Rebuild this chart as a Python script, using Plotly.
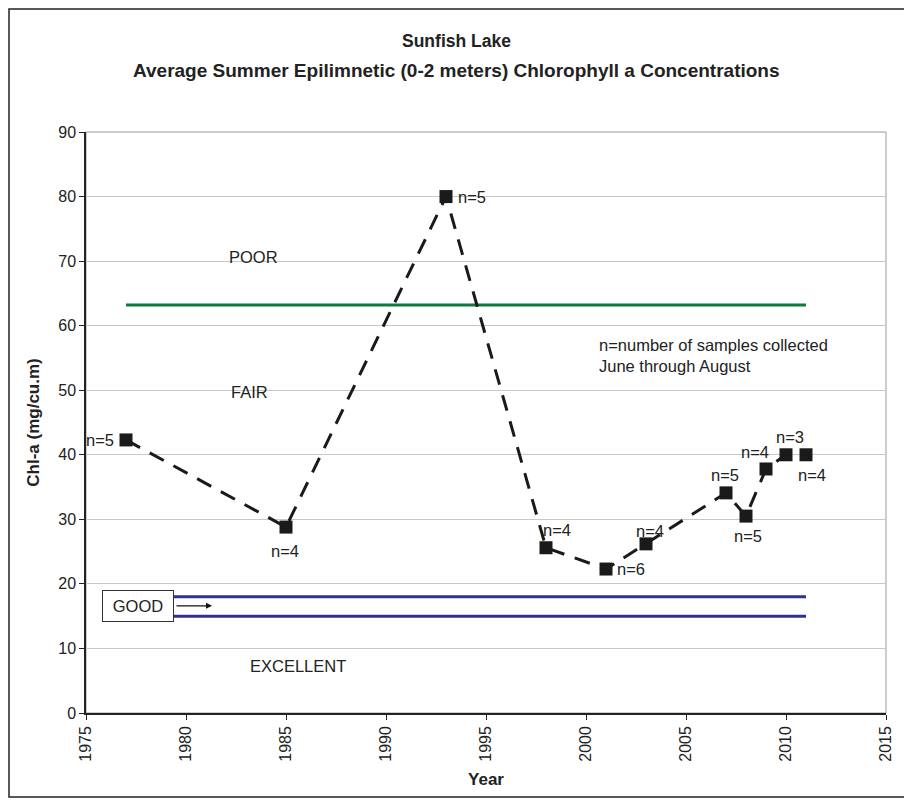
import plotly.graph_objects as go

years = [1977, 1985, 1993, 1998, 2001, 2003, 2007, 2008, 2009, 2010, 2011]
chla = [42.3, 28.8, 80.0, 25.6, 22.3, 26.2, 34.1, 30.5, 37.8, 40.0, 40.0]
n_samples = [5, 4, 5, 4, 6, 4, 5, 5, 4, 3, 4]

poor_fair = 63.2
good_upper = 18.0
good_lower = 15.0
threshold_x = [1977, 2011]

x_ticks = [1975, 1980, 1985, 1990, 1995, 2000, 2005, 2010, 2015]
y_ticks = [0, 10, 20, 30, 40, 50, 60, 70, 80, 90]

# label offsets (px) for each "n=" annotation
label_dx = [-26, -1, 26, 11, 25, 4, -1, 2, -11, 4, 6]
label_dy = [0, -24, 0, 18, 0, 13, 18, -20, 17, 18, -20]

FONT = "Liberation Sans, Arial, sans-serif"
TXT = 16.5

# page is rendered with an 8px body margin; compensate so the plot area sits where the reference has it
OFF = 8
W, H = 912 - OFF, 803 - OFF
L, R, T, B = 86 - OFF, 26, 132 - OFF, 90


def px_x(page_x):
    return (page_x - 86) / 800


def px_y(page_y):
    return (713 - page_y) / 581


fig = go.Figure()

fig.add_trace(go.Scatter(x=threshold_x, y=[poor_fair, poor_fair], mode="lines",
                         line=dict(color="#0f7a3a", width=3), hoverinfo="skip"))
fig.add_trace(go.Scatter(x=threshold_x, y=[good_upper, good_upper], mode="lines",
                         line=dict(color="#2e3192", width=3), hoverinfo="skip"))
fig.add_trace(go.Scatter(x=threshold_x, y=[good_lower, good_lower], mode="lines",
                         line=dict(color="#2e3192", width=3), hoverinfo="skip"))

fig.add_trace(go.Scatter(x=years, y=chla, mode="lines+markers",
                         line=dict(color="#1a1a1a", width=3, dash="16px,11px"),
                         marker=dict(symbol="square", size=13, color="#1a1a1a")))

for xv, yv, n, dx, dy in zip(years, chla, n_samples, label_dx, label_dy):
    fig.add_annotation(x=xv, y=yv, text=f"n={n}", showarrow=False,
                       xshift=dx, yshift=dy, font=dict(size=TXT, color="#222222", family=FONT))

zone_labels = [("POOR", 1983.35, 70.7), ("FAIR", 1983.15, 49.7), ("EXCELLENT", 1985.6, 7.3)]
for t, xv, yv in zone_labels:
    fig.add_annotation(x=xv, y=yv, text=t, showarrow=False,
                       font=dict(size=TXT, color="#222222", family=FONT))

fig.add_annotation(x=2000.55, y=55.4, xanchor="left", align="left", showarrow=False,
                   text="n=number of samples collected<br>June through August",
                   font=dict(size=TXT, color="#222222", family=FONT))

fig.add_annotation(x=1981.3, y=16.6, ax=1979.45, ay=16.6, axref="x", ayref="y",
                   showarrow=True, arrowhead=2, arrowsize=1, arrowwidth=1.2,
                   arrowcolor="#111111", text="")
fig.add_annotation(x=1977.6, y=16.6, text="GOOD", showarrow=False,
                   width=60, height=20, borderpad=5,
                   bordercolor="#333333", borderwidth=1, bgcolor="white",
                   font=dict(size=TXT, color="#222222", family=FONT))

fig.add_annotation(xref="paper", yref="paper", x=px_x(456), y=px_y(41), yanchor="middle",
                   xanchor="center", showarrow=False,
                   text="<b>Sunfish Lake</b>", font=dict(size=17.5, color="#222222", family=FONT))
fig.add_annotation(xref="paper", yref="paper", x=px_x(456), y=px_y(70), yanchor="middle",
                   xanchor="center", showarrow=False,
                   text="<b>Average Summer Epilimnetic (0-2 meters) Chlorophyll a Concentrations</b>",
                   font=dict(size=19, color="#222222", family=FONT))

# outer border
fig.add_shape(type="rect", xref="paper", yref="paper",
              x0=px_x(9), x1=px_x(906), y0=px_y(797), y1=px_y(9),
              line=dict(color="#222222", width=1.5))
# plot area right/top border
fig.add_shape(type="rect", xref="paper", yref="paper", x0=0, x1=1, y0=0, y1=1,
              line=dict(color="#999999", width=1), layer="below")

fig.update_layout(
    width=W, height=H,
    margin=dict(l=L, r=R, t=T, b=B),
    paper_bgcolor="white", plot_bgcolor="white",
    showlegend=False,
    font=dict(family=FONT, size=16, color="#222222"),
    xaxis=dict(range=[1975, 2015], tickvals=x_ticks, ticktext=[str(v) for v in x_ticks],
               tickangle=-90, showgrid=False, zeroline=False,
               showline=True, linecolor="#222222", linewidth=1.5,
               ticks="outside", ticklen=5, tickcolor="#222222",
               tickfont=dict(size=16),
               title=dict(text="<b>Year</b>", font=dict(size=17), standoff=12)),
    yaxis=dict(range=[0, 90], tickvals=y_ticks, showgrid=True, gridcolor="#c8c8c8",
               zeroline=False, showline=True, linecolor="#222222", linewidth=1.5,
               ticks="outside", ticklen=5, tickcolor="#222222",
               tickfont=dict(size=16),
               title=dict(text="<b>Chl-a (mg/cu.m)</b>", font=dict(size=17), standoff=14)),
)

fig.write_html("out.html")
